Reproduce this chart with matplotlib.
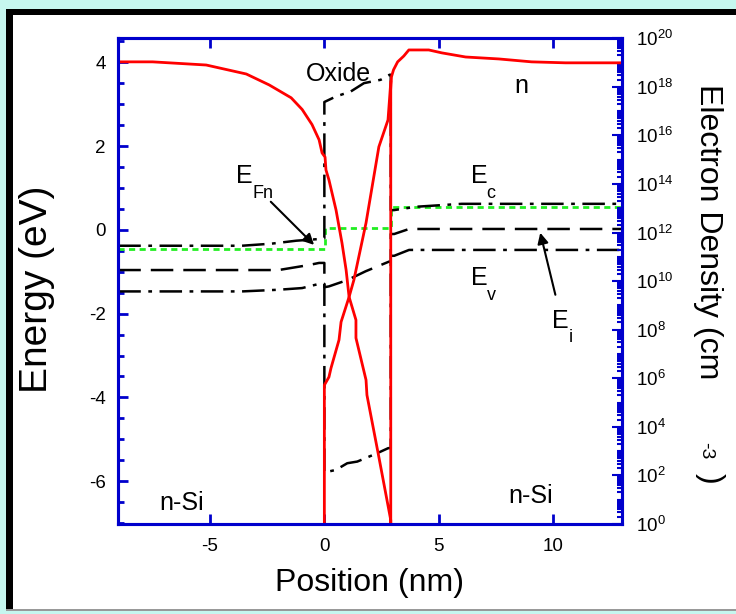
import numpy as np
import matplotlib
matplotlib.use("Agg")
import matplotlib.pyplot as plt
from matplotlib.patches import Rectangle
from matplotlib.ticker import MultipleLocator, LogLocator, LogFormatterMathtext, NullFormatter

plt.rcParams['font.family'] = ['Liberation Sans', 'DejaVu Sans']
plt.rcParams['mathtext.fontset'] = 'custom'
plt.rcParams['mathtext.rm'] = 'Liberation Sans'
plt.rcParams['mathtext.it'] = 'Liberation Sans:italic'
plt.rcParams['axes.unicode_minus'] = False

# ---------------------------------------------------------------------------
# Band edges (eV) vs position (nm)
# ---------------------------------------------------------------------------
ec_x = [-9.0, -3.6, -2.3, -1.23, -0.23, 0.0, 0.0, 0.5, 1.15, 1.73, 2.46, 2.85, 2.9, 2.9, 3.04, 4.0, 6.0, 13.0]
ec_e = [-0.38, -0.38, -0.33, -0.26, -0.22, -0.2, 3.05, 3.18, 3.3, 3.5, 3.58, 3.7, 3.7, 0.47, 0.47, 0.55, 0.62, 0.62]

ei_x = [-9.0, -2.0, -0.67, -0.23, 0.0, 0.0, 0.2, 1.0, 1.8, 2.82, 2.9, 2.9, 3.05, 3.7, 13.0]
ei_e = [-0.96, -0.96, -0.84, -0.79, -0.79, -1.37, -1.35, -1.2, -0.99, -0.76, -0.76, -0.1, -0.1, 0.02, 0.02]

ev_x = [-9.0, -3.6, -2.0, -0.97, -0.23, 0.0, 0.0, 0.5, 1.0, 1.44, 2.31, 2.79, 2.9, 2.9, 3.05, 3.7, 13.0]
ev_e = [-1.47, -1.47, -1.43, -1.39, -1.29, -1.29, -5.79, -5.73, -5.57, -5.53, -5.33, -5.21, -5.21, -0.62, -0.62, -0.48, -0.48]

efn_x = [-9.0, 0.03, 0.03, 2.9, 2.9, 13.0]
efn_e = [-0.46, -0.46, 0.04, 0.04, 0.55, 0.55]

# ---------------------------------------------------------------------------
# Electron density, log10(cm^-3)
# ---------------------------------------------------------------------------
n1_x = [-9.0, -7.5, -5.16, -3.41, -2.41, -1.45, -0.97, -0.54, -0.23, -0.1, 0.03, 0.07, 0.2,
        0.51, 0.77, 0.95, 1.08, 1.38, 1.38, 1.82, 1.86, 2.38, 2.9, 2.9, 2.9, 2.93, 3.02,
        3.2, 3.47, 3.69, 4.56, 5.13, 6.17, 7.62, 9.05, 10.53, 13.0]
n1_log = [19.03, 19.03, 18.9, 18.53, 18.08, 17.55, 17.07, 16.45, 15.82, 15.28, 15.11, 14.58, 14.17,
          12.93, 11.57, 10.46, 9.35, 8.4, 7.66, 5.93, 5.31, 2.76, 0.16, 0.0, 17.87, 18.41, 18.7,
          19.03, 19.27, 19.52, 19.52, 19.4, 19.23, 19.15, 19.03, 18.99, 18.99]

n2_x = [0.0, 0.0, 0.2, 0.29, 0.64, 0.73, 1.08, 1.29, 1.82, 2.38, 2.78, 2.86, 2.9]
n2_log = [0.0, 5.72, 6.05, 6.42, 7.58, 8.32, 9.35, 10.05, 12.4, 15.53, 16.64, 17.67, 18.2]

BLUE = '#0000cc'
GREEN = '#22ee22'
DASHDOT = (9, 3, 1.5, 3)
DASHED = (9, 4)

fig = plt.figure(figsize=(7.36, 6.14), dpi=100, facecolor='#c6f7ef')
W, H = 736.0, 614.0

# slide-like frame: white panel, black left/top border, grey bottom line
fig.add_artist(Rectangle((12 / W, 1 - 609 / H), 1, (609 - 14) / H, transform=fig.transFigure,
                         facecolor='white', edgecolor='none', zorder=-10))
fig.add_artist(Rectangle((6 / W, 1 - 609 / H), 7 / W, (609 - 9) / H, transform=fig.transFigure,
                         facecolor='black', edgecolor='none', zorder=-9))
fig.add_artist(Rectangle((6 / W, 1 - 15 / H), 1, 6 / H, transform=fig.transFigure,
                         facecolor='black', edgecolor='none', zorder=-9))
fig.add_artist(Rectangle((6 / W, 1 - 611 / H), 1, 2 / H, transform=fig.transFigure,
                         facecolor='#999999', edgecolor='none', zorder=-9))

ax = fig.add_axes([118.3 / W, 1 - 524 / H, (622 - 118.3) / W, (524 - 38.3) / H])
ax.patch.set_visible(False)

ax.plot(efn_x, efn_e, color=GREEN, lw=2.0, dashes=(2.2, 1.6))
ax.plot(ec_x, ec_e, color='black', lw=1.8, dashes=DASHDOT)
ax.plot(ei_x, ei_e, color='black', lw=1.8, dashes=DASHED)
ax.plot(ev_x, ev_e, color='black', lw=1.8, dashes=DASHDOT)

ax.set_xlim(-9, 13)
ax.set_ylim(-7.02, 4.57)
ax.xaxis.set_major_locator(MultipleLocator(5))
ax.yaxis.set_major_locator(MultipleLocator(2))
ax.yaxis.set_minor_locator(MultipleLocator(0.5))
ax.tick_params(which='both', direction='in', color=BLUE, width=2, top=True,
               labelsize=13.5, labelcolor='black')
ax.tick_params(which='major', length=7)
ax.tick_params(which='minor', length=4.5)
ax.tick_params(axis='x', pad=10)
ax.tick_params(axis='y', pad=9)
for sp in ax.spines.values():
    sp.set_color(BLUE)
    sp.set_linewidth(2.2)

# annotations
ax.text(-0.8, 3.54, 'Oxide', fontsize=18, ha='left', va='baseline')
ax.text(8.62, 3.26, 'n', fontsize=18, ha='center', va='baseline')
ax.text(-3.85, 1.12, 'E', fontsize=18, ha='left', va='baseline')
ax.text(-3.15, 0.76, 'Fn', fontsize=13, ha='left', va='baseline')
ax.text(6.39, 1.12, 'E', fontsize=18, ha='left', va='baseline')
ax.text(7.09, 0.76, 'c', fontsize=13, ha='left', va='baseline')
ax.text(6.39, -1.31, 'E', fontsize=18, ha='left', va='baseline')
ax.text(7.09, -1.67, 'v', fontsize=13, ha='left', va='baseline')
ax.text(9.93, -2.34, 'E', fontsize=18, ha='left', va='baseline')
ax.text(10.66, -2.68, 'i', fontsize=13, ha='left', va='baseline')
ax.text(-6.25, -6.68, 'n-Si', fontsize=18, ha='center', va='baseline')
ax.text(9.01, -6.52, 'n-Si', fontsize=18, ha='center', va='baseline')

arrow = dict(arrowstyle='-|>', color='black', lw=1.5, mutation_scale=16, shrinkA=0, shrinkB=0)
ax.annotate('', xy=(-0.45, -0.36), xytext=(-2.34, 0.67), arrowprops=arrow)
ax.annotate('', xy=(9.43, -0.07), xytext=(10.09, -1.55), arrowprops=arrow)

# electron density on log axis
ax2 = ax.twinx()
ax2.plot(n1_x, np.power(10.0, n1_log), color='red', lw=2.0)
ax2.plot(n2_x, np.power(10.0, n2_log), color='red', lw=2.0)
ax2.set_yscale('log')
ax2.set_ylim(1, 1e20)
ax2.set_xlim(-9, 13)
ax2.yaxis.set_major_locator(LogLocator(base=100, numticks=20))
ax2.yaxis.set_major_formatter(LogFormatterMathtext(base=10))
ax2.yaxis.set_minor_locator(LogLocator(base=10, subs=np.arange(1, 10), numticks=30))
ax2.yaxis.set_minor_formatter(NullFormatter())
ax2.tick_params(which='both', direction='in', color=BLUE, width=1.5, labelsize=13.5, pad=10)
ax2.tick_params(which='major', length=7)
ax2.tick_params(which='minor', length=3.5)
for sp in ax2.spines.values():
    sp.set_color(BLUE)
    sp.set_linewidth(2.2)

# axis titles
fig.text(370 / W, 1 - 583 / H, 'Position (nm)', fontsize=23, ha='center', va='center')
fig.text(37 / W, 1 - 289 / H, 'Energy (eV)', fontsize=28, ha='center', va='center', rotation=90)
fig.text(708 / W, 1 - 232 / H, 'Electron Density (cm', fontsize=23, ha='center', va='center',
         rotation=-90)
fig.text(706 / W, 1 - 451 / H, '-3', fontsize=14, ha='center', va='center', rotation=-90)
fig.text(710 / W, 1 - 478 / H, ')', fontsize=23, ha='center', va='center', rotation=-90)

fig.savefig('out.png', dpi=100, facecolor=fig.get_facecolor())
